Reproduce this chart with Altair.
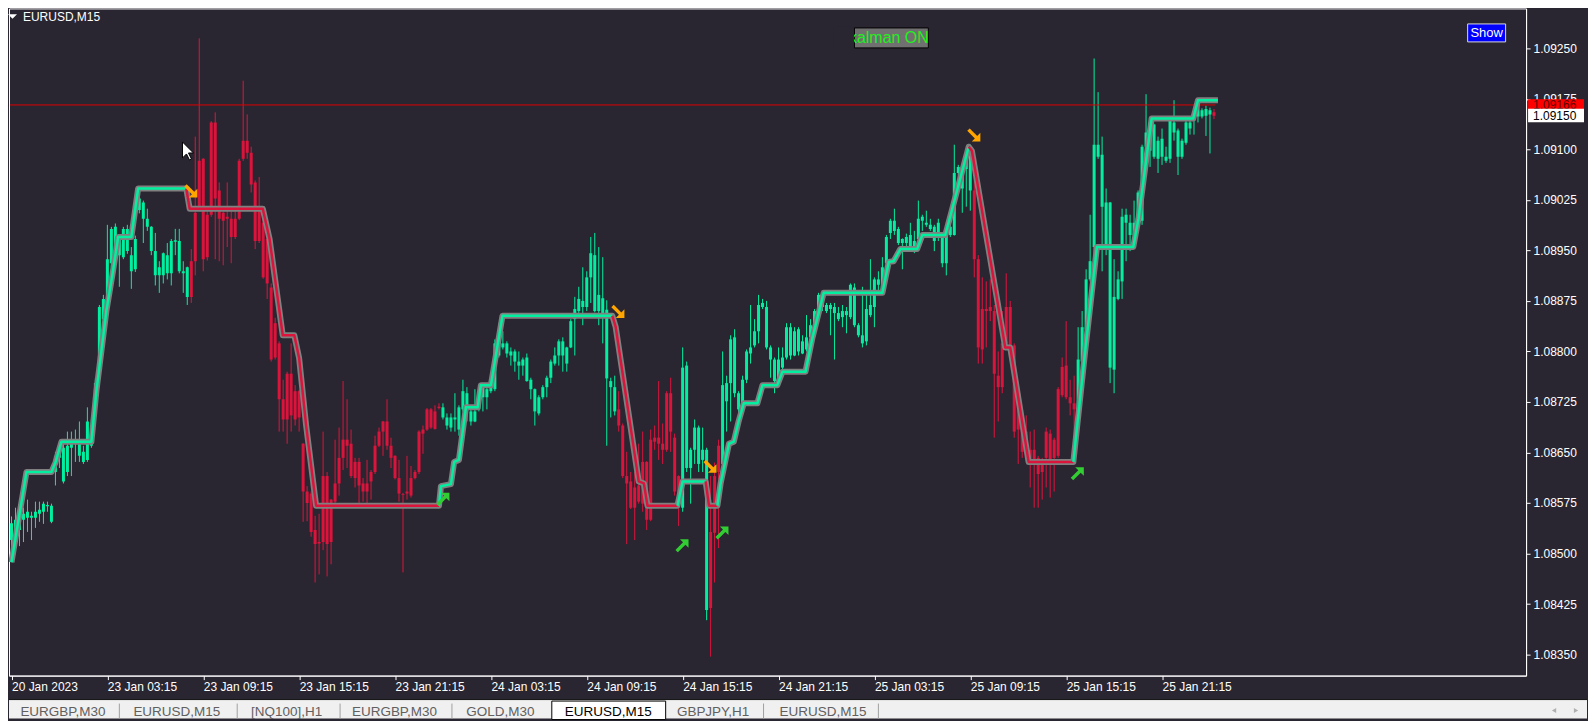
import altair as alt
import pandas as pd

# ---------------- data (prices in 1e-5 above 1.08000) ----------------
BASE = 1.08000
PIP = 0.00001

OPEN = [
    520,529,535,550,553,553,553,559,562,570, 547,621,642,607,621,657,663,645,636,639,
    660,705,776,848,878,931,937,943,940,949, 919,922,1010,997,985,949,913,913,913,916,
    916,963,919,916,881,934,1006,1083,1086,1003, 1140,1140,1039,1006,1000,997,997,1083,1113,1113,
    1095,1051,1009,991,967,895,842,812,729,767, 767,741,741,663,592,
    589,535,517,615,615,580,604,642,669,669, 663,636,636,604,604,621,660,681,696,696,
    660,645,612,588,592,612,621,681,684,714, 714,711,718,702,690,687,699,684,714,714,
    696,696,714,732,732,741,744,794,806,797, 794,785,779,779,756,744,711,708,732,747,
    761,782,794,794,782,806,848,860,866,866, 910,860,860,854,
    760,747,711,714,690,615,607,598,601,636, 636,669,672,672,663,738,738,672,615,568,
    627,627,654,633,639,416,532,615,660,633, 726,753,738,714,711,758,797,809,830,866,
    806,788,756,758,776,791,794,794,800,797, 803,821,839,860,866,860,863,857,848,851,
    854,851,839,824,812,815,854,866,899,896, 931,976,979,961,961,961,
    952,952,967,994,988,982,964,973,931,931, 973,973,1065,1042,1071,1039,1039,937,863,863,
    866,860,764,812,866,866,809,741,687,681, 654,654,642,633,681,678,669,744,777,779,
    732,723,714,785,833,907,955,1089,1015,955, 776,773,878,904,991,973,973,997,994,1104,
    1098,1089,1086,1089,1083,1086,1125,1089,1089,1110, 1131,1143,1149,1149,1150,1152,1155,
]
HIGH = [
    555,568,580,568,580,562,577,577,577,577, 574,651,657,663,681,681,684,696,660,717,
    699,760,869,884,988,985,990,968,985,988, 955,972,1035,1024,1012,986,976,934,947,961,
    967,982,982,934,926,952,1119,1265,1087,1010, 1142,1155,1051,1008,1051,1009,1015,1086,1202,1152,
    1104,1054,1059,997,976,901,850,815,758,770, 812,750,743,664,600,
    592,556,559,681,621,581,669,687,756,729, 684,642,642,612,639,624,675,687,697,729,
    672,646,639,590,645,630,624,683,690,716, 716,720,723,723,708,708,738,720,758,747,
    714,744,741,750,747,753,818,842,830,815, 806,803,800,791,797,761,745,735,750,764,
    788,806,818,821,807,848,881,896,925,919, 970,976,955,940,
    876,761,764,741,693,651,621,621,663,681, 637,684,690,756,693,741,761,678,616,806,
    785,657,699,690,687,657,615,635,669,800, 764,824,833,741,764,803,869,848,884,878,
    875,809,791,806,806,842,842,836,836,824, 854,848,863,887,884,872,872,872,866,869,
    866,901,901,842,896,887,937,910,919,940, 973,997,1012,985,968,975,
    991,979,1024,1003,1009,997,988,997,976,980, 991,1107,1077,1074,1092,1107,1062,943,910,904,
    907,869,800,860,916,875,812,753,711,705, 681,684,645,642,687,684,672,747,791,845,
    758,764,836,860,922,1003,1235,1185,1119,1042, 1022,937,919,1012,1012,1003,1024,1039,1107,1182,
    1131,1138,1119,1131,1104,1146,1173,1131,1116,1143, 1143,1161,1176,1161,1165,1162,1160,
]
LOW = [
    490,520,511,517,532,520,538,547,544,562, 545,601,627,604,615,615,636,636,633,636,
    657,700,773,842,872,925,930,896,937,945, 893,918,1005,961,979,943,898,887,901,907,
    898,943,916,887,869,872,913,1009,919,935, 1000,937,934,928,955,931,967,995,1083,1086,
    1036,952,961,908,878,785,788,681,681,663, 681,690,681,547,548,
    525,457,469,505,466,484,574,586,624,627, 612,598,574,577,574,580,618,658,645,654,
    627,610,577,472,580,583,610,618,648,682, 685,684,714,699,684,681,681,675,711,696,
    690,695,711,711,714,738,741,791,803,791, 779,770,758,764,755,729,690,705,729,732,
    753,779,779,770,770,805,794,857,839,860, 872,858,839,812,
    660,702,705,681,612,514,566,520,574,562, 535,548,654,639,633,651,651,586,541,562,
    621,574,633,621,621,401,347,457,508,630, 681,696,732,687,710,753,782,806,812,863,
    803,761,738,756,770,788,788,793,794,796, 800,806,836,857,860,857,824,788,845,836,
    827,848,836,821,806,809,851,836,884,890, 925,967,973,958,922,955,
    950,946,964,979,985,979,949,964,925,913, 970,972,1039,1006,1015,1009,910,782,782,806,
    845,672,696,738,809,800,672,633,642,639, 598,568,568,580,598,583,592,642,732,729,
    705,663,711,782,824,904,934,1086,919,943, 753,738,876,878,934,949,970,991,988,1101,
    1074,1086,1065,1077,1080,1080,1113,1062,1086,1107, 1122,1122,1140,1146,1120,1094,1145,
]
CLOSE = [
    545,550,559,559,562,556,562,565,574,572, 571,645,648,657,660,663,669,666,651,696,
    681,753,866,878,937,982,985,967,982,982, 943,967,1027,1021,997,985,949,925,946,943,
    964,965,964,919,925,881,934,1015,937,940, 1003,1027,997,994,997,970,970,997,1086,1095,
    1048,964,964,910,901,788,791,729,699,699, 705,699,702,592,575,
    532,514,515,517,514,517,577,604,642,660, 615,612,601,592,592,607,621,660,681,660,
    642,612,589,587,589,586,612,621,678,684, 687,685,716,717,702,702,702,717,741,738,
    711,711,735,747,744,747,812,824,812,812, 800,800,785,788,791,758,744,732,747,761,
    785,794,815,815,806,845,863,878,875,910, 946,943,884,879,
    862,756,747,690,615,604,568,568,577,574, 550,550,666,663,654,654,681,592,574,776,
    779,654,687,687,654,654,419,531,621,750, 753,818,821,738,758,800,806,830,869,872,
    866,806,788,788,791,836,836,830,833,815, 821,839,860,884,878,869,869,866,857,860,
    860,899,895,839,824,863,869,907,907,925, 970,994,994,982,967,970,
    973,964,997,1000,991,988,985,991,973,979, 985,1065,1074,1071,1089,1095,937,806,803,860,
    860,767,747,747,812,809,681,684,651,651, 636,639,618,621,642,639,642,645,735,732,
    723,714,788,836,907,934,1107,1107,1092,1021, 1021,881,907,1000,1003,991,991,1036,1104,1125,
    1119,1137,1113,1116,1089,1143,1140,1128,1113,1140, 1140,1152,1170,1158,1160,1158,1150,
]

# Kalman line: vertices (bar index, value) per trend segment
KALMAN_IDX = [
    [0, 3.75, 10, 11, 12.5, 20, 21.25, 23.75, 25.4, 26.7, 30, 31.7, 43.75],
    [43.75, 44.6, 62.9, 64.6, 67.9, 70.8, 72, 73.75, 76.25, 107],
    [107, 107.5, 110, 110.8, 112, 113.75, 116.7, 117.5, 120, 122.9, 150.4],
    [150.4, 151.25, 157, 158.3, 159.2, 166.7],
    [166.7, 168, 173.75],
    [173.75, 174.6, 176.7],
    [176.7, 177.5, 179.6, 180.8, 182, 183.3, 186.7, 188, 191.7, 193, 198.75, 200.4, 203.3,
     218, 219.6, 220.8, 222.5, 226.7, 228, 233.75, 239.6],
    [239.6, 240.4, 248.75, 250, 254.6, 265.8],
    [265.8, 268.75, 271.7, 280.8, 282.1, 285.4, 295.8, 297, 302],
]
KALMAN_VAL = [
    [487, 621, 621, 635, 666, 666, 741, 860, 919, 970, 970, 1042, 1042],
    [1042, 1012, 1012, 967, 824, 824, 790, 690, 571, 571],
    [571, 600, 603, 636, 639, 717, 717, 750, 750, 853, 853],
    [853, 836, 607, 604, 571, 571],
    [571, 607, 607],
    [607, 571, 571],
    [571, 604, 663, 666, 696, 723, 723, 750, 750, 770, 770, 818, 887,
     887, 933, 934, 952, 952, 973, 973, 1104],
    [1104, 1098, 806, 806, 636, 636],
    [636, 800, 955, 955, 997, 1146, 1146, 1173, 1173],
]
KALMAN_DIR = ["up", "down", "up", "down", "up", "down", "up", "down", "up"]

ARROW_IDX = [44.8, 151.7, 174.75, 240.8, 107.9, 167.75, 177.75, 266.7]
ARROW_VAL = [1039, 860, 630, 1122, 580, 511, 530, 618]
ARROW_DIR = ["down", "down", "down", "down", "up", "up", "up", "up"]

Y_TICKS = [1.08350, 1.08425, 1.08500, 1.08575, 1.08650, 1.08725, 1.08800,
           1.08875, 1.08950, 1.09025, 1.09100, 1.09175, 1.09250]
X_TICKS = [0, 24, 48, 72, 96, 120, 144, 168, 192, 216, 240, 264, 288]
X_LABELS = ["20 Jan 2023", "23 Jan 03:15", "23 Jan 09:15", "23 Jan 15:15", "23 Jan 21:15",
            "24 Jan 03:15", "24 Jan 09:15", "24 Jan 15:15", "24 Jan 21:15",
            "25 Jan 03:15", "25 Jan 09:15", "25 Jan 15:15", "25 Jan 21:15"]

LINE_LEVEL = 1.09166
BID = 1.09150

TAB_LABELS = ["EURGBP,M30", "EURUSD,M15", "[NQ100],H1", "EURGBP,M30", "GOLD,M30",
              "EURUSD,M15", "GBPJPY,H1", "EURUSD,M15"]
TAB_ACTIVE = 5
TAB_X = [54, 168, 278, 386, 492, 600, 705, 815]
TAB_SEP_X = [110, 228, 331, 443, 755, 870]

# ---------------- styles ----------------
GREEN = "#00f0a0"
RED = "#dc143c"
BG = "#2a2631"
WHITE = "#ffffff"
FONT = "Liberation Sans"

W, H = 1519, 668
XS = alt.Scale(domain=[-0.625, 379.125], nice=False, zero=False)
YS = alt.Scale(domain=[1.083187, 1.093093], nice=False, zero=False)
CS = alt.Scale(domain=["up", "down"], range=[GREEN, RED])

rows = []
for i, (o, h, l, c) in enumerate(zip(OPEN, HIGH, LOW, CLOSE)):
    rows.append({"i": i, "x0": i - 0.375, "x1": i + 0.375,
                 "o": BASE + o * PIP, "h": BASE + h * PIP,
                 "l": BASE + l * PIP, "c": BASE + c * PIP,
                 "dir": "up" if c >= o else "down"})
cdf = pd.DataFrame(rows)

krows, outline = [], []
n = 0
for s, (xs, vs) in enumerate(zip(KALMAN_IDX, KALMAN_VAL)):
    for x, v in zip(xs, vs):
        krows.append({"k": x, "p": BASE + v * PIP, "seg": s, "dir": KALMAN_DIR[s], "ord": n})
        if not outline or outline[-1]["k"] != x:
            outline.append({"k": x, "p": BASE + v * PIP, "ord": n})
        n += 1
kdf = pd.DataFrame(krows)
odf = pd.DataFrame(outline)

adf = pd.DataFrame({"k": ARROW_IDX, "p": [BASE + v * PIP for v in ARROW_VAL], "dir": ARROW_DIR})

label_expr = "[" + ",".join("'" + s + "'" for s in X_LABELS) + "][round(datum.value/24)]"
XAX = dict(values=X_TICKS, labelExpr=label_expr, title=None, grid=False,
           labelAlign="left", labelBaseline="top", labelPadding=2, tickSize=4,
           labelOverlap=False, labelFlush=False, domainColor=WHITE, tickColor=WHITE,
           labelColor=WHITE, labelFont=FONT, labelFontSize=12)
YAX = dict(values=Y_TICKS, format=".5f", orient="right", title=None, grid=False,
           labelPadding=3, tickSize=4, domainColor=WHITE, tickColor=WHITE,
           labelColor=WHITE, labelFont=FONT, labelFontSize=12, labelOverlap=False,
           labelFlush=False, labelAlign="left", labelBaseline="middle")


def X(field):
    return alt.X(field, scale=XS, axis=alt.Axis(**XAX))


def Y(field):
    return alt.Y(field, scale=YS, axis=alt.Axis(**YAX))


one = pd.DataFrame({"a": [0]})

level = alt.Chart(cdf).mark_rule(color="#e00000", strokeWidth=1).encode(
    x=X("min(x0):Q"), x2="max(x1):Q",
    y=alt.Y(datum=LINE_LEVEL, scale=YS, axis=alt.Axis(**YAX)))

wicks = alt.Chart(cdf).mark_rule(strokeWidth=1, clip=True).encode(
    x=X("i:Q"), y=Y("l:Q"), y2="h:Q",
    color=alt.Color("dir:N", scale=CS, legend=None))

bodies = alt.Chart(cdf).mark_rect(clip=True).encode(
    x=X("x0:Q"), x2="x1:Q", y=Y("o:Q"), y2="c:Q",
    color=alt.Color("dir:N", scale=CS, legend=None))

k_outline = alt.Chart(odf).mark_line(color="#808080", strokeWidth=6, clip=True,
                                     strokeJoin="round").encode(
    x=X("k:Q"), y=Y("p:Q"), order="ord:Q")

k_inner = alt.Chart(kdf).mark_line(strokeWidth=2.5, clip=True, strokeJoin="round").encode(
    x=X("k:Q"), y=Y("p:Q"), detail="seg:N", order="ord:Q",
    color=alt.Color("dir:N", scale=CS, legend=None))

UP_PATH = "M1,-1 L1,0.25 L0.55,-0.2 L-0.55,0.9 L-0.9,0.55 L0.2,-0.55 L-0.25,-1 Z"
DOWN_PATH = "M1,1 L1,-0.25 L0.55,0.2 L-0.55,-0.9 L-0.9,-0.55 L0.2,0.55 L-0.25,1 Z"

arrows_dn = alt.Chart(adf[adf["dir"] == "down"]).mark_point(
    shape=DOWN_PATH, filled=True, size=190, opacity=1, color="#ffa500").encode(
    x=X("k:Q"), y=Y("p:Q"))
arrows_up = alt.Chart(adf[adf["dir"] == "up"]).mark_point(
    shape=UP_PATH, filled=True, size=190, opacity=1, color="#32cd32").encode(
    x=X("k:Q"), y=Y("p:Q"))

# ---------------- decorations (pixel positions) ----------------
deco = []
deco.append(alt.Chart(one).mark_point(shape="M-1,-0.5 L1,-0.5 L0,0.5 Z", filled=True, size=81,
                                      opacity=1, color=WHITE).encode(
    x=alt.value(3.5), y=alt.value(8)))
deco.append(alt.Chart(one).mark_text(text="EURUSD,M15", align="left", baseline="middle",
                                     font=FONT, fontSize=12, color=WHITE).encode(
    x=alt.value(14), y=alt.value(8.5)))

deco.append(alt.Chart(one).mark_rect(fill="#707070", stroke="#000000", strokeWidth=1).encode(
    x=alt.value(846.5), x2=alt.value(920.5), y=alt.value(19.5), y2=alt.value(39.5)))
deco.append(alt.Chart(one).mark_text(text="kalman ON", align="left", baseline="middle",
                                     font=FONT, fontSize=16, color="#1ef01e").encode(
    x=alt.value(841), y=alt.value(30)))
deco.append(alt.Chart(one).mark_rect(color=BG).encode(
    x=alt.value(826), x2=alt.value(846), y=alt.value(18), y2=alt.value(41)))

deco.append(alt.Chart(one).mark_rect(fill="#0000ff", stroke="#d8d8d8", strokeWidth=1).encode(
    x=alt.value(1460.5), x2=alt.value(1498.5), y=alt.value(15.5), y2=alt.value(33.5)))
deco.append(alt.Chart(one).mark_text(text="Show", align="center", baseline="middle",
                                     font=FONT, fontSize=13, color=WHITE).encode(
    x=alt.value(1479.5), y=alt.value(25)))

CURSOR = ("M-1,-1 L-1,0.684 L-0.579,0.263 L-0.263,0.895 L-0.053,0.789 "
          "L-0.368,0.158 L0.158,0.158 Z")
deco.append(alt.Chart(one).mark_point(shape=CURSOR, filled=True, size=361, opacity=1,
                                      fill=WHITE, stroke="#000000", strokeWidth=1).encode(
    x=alt.value(183.2), y=alt.value(143.2)))

# price tags on the right scale
deco.append(alt.Chart(one).mark_rect(color="#ff0000").encode(
    x=alt.value(1521), x2=alt.value(1577), y=alt.value(91), y2=alt.value(104)))
deco.append(alt.Chart(one).mark_text(text=f"{LINE_LEVEL:.5f}", align="left", baseline="middle",
                                     font=FONT, fontSize=12, color="#600000").encode(
    x=alt.value(1526), y=alt.value(96.6)))
deco.append(alt.Chart(one).mark_rect(color=WHITE).encode(
    x=alt.value(1521), x2=alt.value(1577), y=alt.value(100.5), y2=alt.value(114)))
deco.append(alt.Chart(one).mark_text(text=f"{BID:.5f}", align="left", baseline="middle",
                                     font=FONT, fontSize=12, color="#000000").encode(
    x=alt.value(1526), y=alt.value(107.6)))

# tab bar
deco.append(alt.Chart(one).mark_rect(color="#f0f0f0").encode(
    x=alt.value(0), x2=alt.value(1580), y=alt.value(692), y2=alt.value(711)))
deco.append(alt.Chart(one).mark_rule(color="#101010", strokeWidth=1).encode(
    x=alt.value(0), x2=alt.value(1580), y=alt.value(692)))
deco.append(alt.Chart(one).mark_rect(fill=WHITE, stroke="#000000", strokeWidth=1).encode(
    x=alt.value(543.5), x2=alt.value(657.5), y=alt.value(693.5), y2=alt.value(712)))
for sx in TAB_SEP_X:
    deco.append(alt.Chart(one).mark_rule(color="#a0a0a0", strokeWidth=1).encode(
        x=alt.value(sx + 0.5), y=alt.value(696), y2=alt.value(711)))
for j, (lab, tx) in enumerate(zip(TAB_LABELS, TAB_X)):
    deco.append(alt.Chart(one).mark_text(
        text=lab, font=FONT, fontSize=13.5, baseline="middle", align="center",
        color="#000000" if j == TAB_ACTIVE else "#606060").encode(
        x=alt.value(tx), y=alt.value(704)))
deco.append(alt.Chart(one).mark_point(shape="triangle-left", filled=True, size=25, opacity=1,
                                      color="#b0b0b0").encode(x=alt.value(1547), y=alt.value(703)))
deco.append(alt.Chart(one).mark_point(shape="triangle-right", filled=True, size=25, opacity=1,
                                      color="#b0b0b0").encode(x=alt.value(1569), y=alt.value(703)))

chart = alt.layer(
    wicks, level, bodies, k_outline, k_inner, arrows_dn, arrows_up, *deco
).properties(
    width=W, height=H, padding=0, background=BG
).configure_view(stroke=WHITE, strokeWidth=1)

chart.save("out.html", embed_options={"renderer": "svg", "actions": False})
